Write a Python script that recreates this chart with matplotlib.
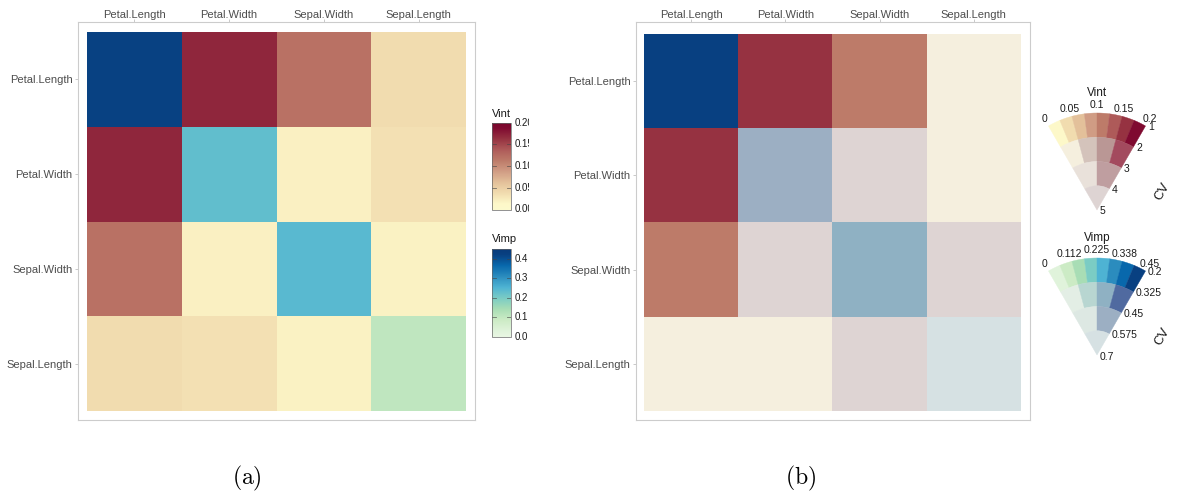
import numpy as np
import matplotlib
matplotlib.use("Agg")
import matplotlib as mpl
import matplotlib.pyplot as plt
from matplotlib.colors import LinearSegmentedColormap, Normalize, to_rgb
from matplotlib.patches import Wedge

plt.rcParams['font.family'] = ['Liberation Sans', 'DejaVu Sans']
plt.rcParams['mathtext.fontset'] = 'cm'

# ---------------------------------------------------------------- data
variables = ["Petal.Length", "Petal.Width", "Sepal.Width", "Sepal.Length"]

# variable importance (diagonal) and its coefficient of variation
vimp = [0.42, 0.23, 0.24, 0.105]
vimp_cv = [0.25, 0.52, 0.40, 0.64]

# pairwise interaction strength and its coefficient of variation
pair_a = ["Petal.Length", "Petal.Length", "Petal.Length", "Petal.Width", "Petal.Width", "Sepal.Width"]
pair_b = ["Petal.Width", "Sepal.Width", "Sepal.Length", "Sepal.Width", "Sepal.Length", "Sepal.Length"]
vint = [0.17, 0.12, 0.038, 0.020, 0.034, 0.018]
vint_cv = [1.5, 1.6, 2.5, 4.5, 2.6, 4.3]

vint_limits = (0.0, 0.2)
vimp_limits = (0.0, 0.45)
vint_cv_limits = (1.0, 5.0)
vimp_cv_limits = (0.2, 0.7)

vint_bar_ticks = [0.0, 0.05, 0.10, 0.15, 0.20]
vint_bar_labels = ["0.00", "0.05", "0.10", "0.15", "0.20"]
vimp_bar_ticks = [0.0, 0.1, 0.2, 0.3, 0.4]
vimp_bar_labels = ["0.0", "0.1", "0.2", "0.3", "0.4"]

vint_fan_labels = ["0", "0.05", "0.1", "0.15", "0.2"]
vint_cv_labels = ["1", "2", "3", "4", "5"]
vimp_fan_labels = ["0", "0.112", "0.225", "0.338", "0.45"]
vimp_cv_labels = ["0.2", "0.325", "0.45", "0.575", "0.7"]

# ------------------------------------------------------------ palettes
# value-suppressing palettes: one ring per uncertainty level
vint_rings = [
    ["#FDF8C9", "#F1DCAF", "#E3C09A", "#D09C84", "#BD7B69", "#AE5A59", "#963241", "#7F0A30"],
    ["#F5EFDE", "#D4C3BB", "#BA9795", "#A34A5E"],
    ["#E9E1DA", "#BF9EA0"],
    ["#DED4D3"],
]
vimp_rings = [
    ["#E0F3DB", "#CCEBC5", "#A8DDB5", "#7BCCC4", "#4EB3D3", "#2B8CBE", "#0868AC", "#084081"],
    ["#E3EEE5", "#B8D6D1", "#8FB1C3", "#506AA0"],
    ["#DDE8E3", "#9CAFC3"],
    ["#D6E1E3"],
]


def continuous_cmap(name, ring, lo, hi):
    n = len(ring)
    pos = [0.0] + [(i + 0.5) / n for i in range(n)] + [1.0]
    cols = [lo] + ring + [hi]
    return LinearSegmentedColormap.from_list(name, list(zip(pos, cols)))


int_cmap = continuous_cmap("vint", vint_rings[0], "#FCF9CC", "#78062C")
imp_cmap = continuous_cmap("vimp", vimp_rings[0], "#E8F6E2", "#083B7A")
int_norm = Normalize(*vint_limits)
imp_norm = Normalize(*vimp_limits)


def vsup_color(v, u, vlim, ulim, rings):
    k = int(np.clip((u - ulim[0]) / (ulim[1] - ulim[0]) * len(rings), 0, len(rings) - 1))
    pal = rings[k]
    b = int(np.clip((v - vlim[0]) / (vlim[1] - vlim[0]) * len(pal), 0, len(pal) - 1))
    return to_rgb(pal[b])


# ------------------------------------------------------------ matrices
n = len(variables)
idx = {v: i for i, v in enumerate(variables)}
int_mat = np.full((n, n), np.nan)
int_cv_mat = np.full((n, n), np.nan)
for a, b, v, c in zip(pair_a, pair_b, vint, vint_cv):
    i, j = idx[a], idx[b]
    int_mat[i, j] = int_mat[j, i] = v
    int_cv_mat[i, j] = int_cv_mat[j, i] = c
imp_mat = np.full((n, n), np.nan)
imp_cv_mat = np.full((n, n), np.nan)
for i in range(n):
    imp_mat[i, i] = vimp[i]
    imp_cv_mat[i, i] = vimp_cv[i]

# ------------------------------------------------------------- figure
W, H = 1179, 493
fig = plt.figure(figsize=(W / 100, H / 100), dpi=100)


def px_axes(x0, y0, x1, y1):
    return fig.add_axes([x0 / W, 1 - y1 / H, (x1 - x0) / W, (y1 - y0) / H])


def fxy(x, y):
    return x / W, 1 - y / H


def style_heatmap(ax, frame, cells):
    fx0, fy0, fx1, fy1 = frame
    cx0, cy0, cx1, cy1 = cells
    cw = (cx1 - cx0) / n
    ch = (cy1 - cy0) / n
    ax.set_xlim(-0.5 - (cx0 - fx0) / cw, n - 0.5 + (fx1 - cx1) / cw)
    ax.set_ylim(n - 0.5 + (fy1 - cy1) / ch, -0.5 - (cy0 - fy0) / ch)
    ax.xaxis.tick_top()
    ax.set_xticks(range(n))
    ax.set_xticklabels(variables)
    ax.set_yticks(range(n))
    ax.set_yticklabels(variables)
    ax.tick_params(length=2.5, width=0.5, color="#B3B3B3", labelsize=8,
                   labelcolor="#4D4D4D", pad=1.5)
    ax.tick_params(axis="x", pad=-0.8)
    for s in ax.spines.values():
        s.set_color("#CCCCCC")
        s.set_linewidth(0.8)


edges = np.arange(n + 1) - 0.5

# (a) continuous scales
frame_a = (78, 22, 475, 420)
ax_a = px_axes(*frame_a)
ax_a.pcolormesh(edges, edges, np.ma.masked_invalid(int_mat), cmap=int_cmap, norm=int_norm)
ax_a.pcolormesh(edges, edges, np.ma.masked_invalid(imp_mat), cmap=imp_cmap, norm=imp_norm)
style_heatmap(ax_a, frame_a, (87, 32, 466, 411))

# (b) value-suppressing uncertainty palettes
frame_b = (636, 22, 1030, 420)
ax_b = px_axes(*frame_b)
rgb = np.ones((n, n, 3))
for i in range(n):
    for j in range(n):
        if i == j:
            rgb[i, j] = vsup_color(imp_mat[i, j], imp_cv_mat[i, j], vimp_limits, vimp_cv_limits, vimp_rings)
        else:
            rgb[i, j] = vsup_color(int_mat[i, j], int_cv_mat[i, j], vint_limits, vint_cv_limits, vint_rings)
ax_b.imshow(rgb, extent=(-0.5, n - 0.5, n - 0.5, -0.5), interpolation="nearest", aspect="auto")
style_heatmap(ax_b, frame_b, (644, 34, 1021, 411))

# ------------------------------------------------ colourbars for (a)
lab_ax = px_axes(480, 95, 529, 345)
lab_ax.set_axis_off()


def colourbar(box, cmap, norm, ticks, labels, title, title_y):
    cax = px_axes(*box)
    cb = mpl.colorbar.ColorbarBase(cax, cmap=cmap, norm=norm, orientation="vertical")
    cb.set_ticks([])
    cb.outline.set_linewidth(0.5)
    cb.outline.set_edgecolor("#666666")
    tr = cax.get_yaxis_transform()
    for t in ticks:
        cax.plot([0, 0.2], [t, t], transform=tr, color="#444444", lw=0.6, alpha=0.7)
        cax.plot([0.8, 1], [t, t], transform=tr, color="#444444", lw=0.6, alpha=0.7)
    x0, y0, x1, y1 = box
    for t, lab in zip(ticks, labels):
        yp = y1 - (t - norm.vmin) / (norm.vmax - norm.vmin) * (y1 - y0)
        lab_ax.text(*fxy(x1 + 4, yp), lab, transform=fig.transFigure, fontsize=7,
                    color="#1A1A1A", ha="left", va="center", clip_on=True)
    lab_ax.text(*fxy(x0, title_y), title, transform=fig.transFigure, fontsize=8,
                color="#1A1A1A", ha="left", va="center", clip_on=True)


colourbar((492, 122.5, 511, 209.5), int_cmap, int_norm, vint_bar_ticks, vint_bar_labels, "Vint", 114)
colourbar((492, 249, 511, 336.5), imp_cmap, imp_norm, vimp_bar_ticks, vimp_bar_labels, "Vimp", 239)

# --------------------------------------------------- colour fans for (b)
fan_ax = px_axes(1035, 80, 1179, 385)
fan_ax.set_xlim(1035, 1179)
fan_ax.set_ylim(H - 385, H - 80)
fan_ax.set_axis_off()

R = 97.0
HALF = 30.0


def colour_fan(cx, cy_px, rings, val_labels, cv_labels, title):
    cy = H - cy_px
    nr = len(rings)
    rw = R / nr
    for k, pal in enumerate(rings):
        r_out = R - k * rw
        m = len(pal)
        for b, col in enumerate(pal):
            t2 = 90 + HALF - b * 2 * HALF / m
            t1 = 90 + HALF - (b + 1) * 2 * HALF / m
            fan_ax.add_patch(Wedge((cx, cy), r_out, t1, t2, width=rw, facecolor=col,
                                   edgecolor=col, linewidth=0.3))
    # value axis along the outer arc
    for i, lab in enumerate(val_labels):
        ang = np.deg2rad(90 + HALF - i * 2 * HALF / (len(val_labels) - 1))
        rr = R + 8
        fan_ax.text(cx + rr * np.cos(ang), cy + rr * np.sin(ang), lab, fontsize=7.5,
                    color="#1A1A1A", ha="center", va="center")
    # uncertainty axis along the right edge
    ang = np.deg2rad(90 - HALF)
    nx, ny = np.cos(ang - np.pi / 2), np.sin(ang - np.pi / 2)
    for k, lab in enumerate(cv_labels):
        rr = R - k * rw
        fan_ax.text(cx + rr * np.cos(ang) + 3 * nx, cy + rr * np.sin(ang) + 3 * ny, lab,
                    fontsize=7.5, color="#1A1A1A", ha="left", va="center")
    fan_ax.text(cx, cy + R + 20, title, fontsize=8.5, color="#1A1A1A", ha="center", va="center")
    fan_ax.text(cx + 65, cy + 18, "CV", fontsize=9.5, color="#1A1A1A", ha="center",
                va="center", rotation=60, rotation_mode="anchor")


colour_fan(1097, 210, vint_rings, vint_fan_labels, vint_cv_labels, "Vint")
colour_fan(1097, 355, vimp_rings, vimp_fan_labels, vimp_cv_labels, "Vimp")

# ------------------------------------------------------- panel captions
fig.text(*fxy(247, 478), r"$\mathrm{(a)}$", fontsize=17, ha="center", va="center")
fig.text(*fxy(801, 478), r"$\mathrm{(b)}$", fontsize=17, ha="center", va="center")

fig.savefig("out.png", dpi=100, facecolor="white")
